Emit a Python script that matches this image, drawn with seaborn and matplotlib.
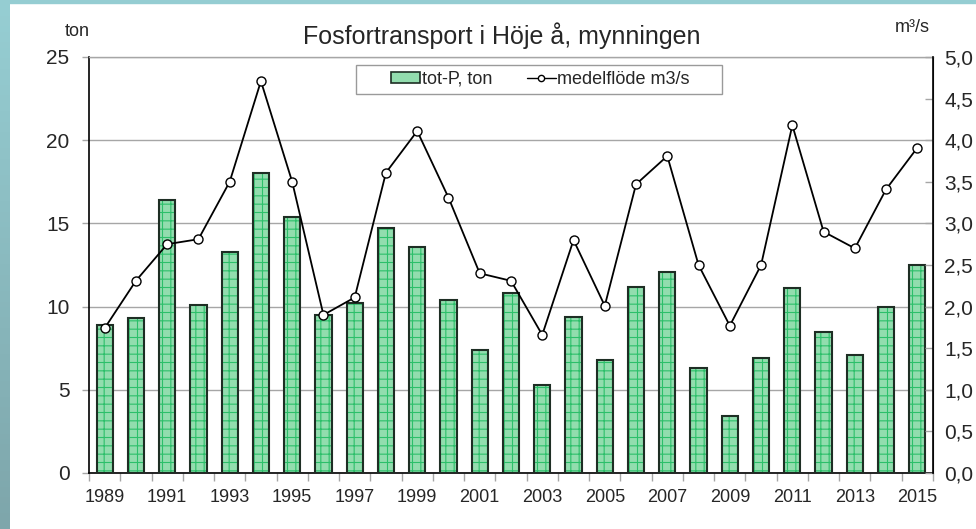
"""
Fosfortransport i Höje å, mynningen - bars (tot-P, ton) with the
mean flow (m3/s) drawn as a line on a second y axis.
"""

import numpy as np
import pandas as pd
import matplotlib
matplotlib.use('Agg')
import matplotlib.pyplot as plt
from matplotlib.patches import Rectangle, Patch
from matplotlib.lines import Line2D
import seaborn as sns

years = list(range(1989, 2016))
tot_p = [8.9, 9.3, 16.4, 10.1, 13.3, 18.0, 15.4, 9.5, 10.2, 14.7,
         13.6, 10.4, 7.4, 10.8, 5.3, 9.4, 6.8, 11.2, 12.1, 6.3,
         3.4, 6.9, 11.1, 8.5, 7.1, 10.0, 12.5]
flow = [1.74, 2.31, 2.75, 2.81, 3.50, 4.71, 3.50, 1.90, 2.11, 3.61,
        4.11, 3.31, 2.40, 2.31, 1.66, 2.80, 2.01, 3.47, 3.81, 2.50,
        1.77, 2.50, 4.18, 2.90, 2.70, 3.41, 3.91]
left_ticks = [0, 5, 10, 15, 20, 25]
right_ticks = [0.0, 0.5, 1.0, 1.5, 2.0, 2.5, 3.0, 3.5, 4.0, 4.5, 5.0]
right_labels = ['0,0', '0,5', '1,0', '1,5', '2,0', '2,5',
                '3,0', '3,5', '4,0', '4,5', '5,0']

BAR_FACE = '#92DDAE'
HATCH_GREEN = '#2CBF6A'
BAR_EDGE = '#1E2E24'
GRID = '#A6A6A6'

sns.set_style('white')
plt.rcParams['font.family'] = ['Liberation Sans', 'DejaVu Sans']
plt.rcParams['hatch.linewidth'] = 0.8

df = pd.DataFrame({'year': [str(y) for y in years], 'tot_p': tot_p,
                   'flow': flow})

fig = plt.figure(figsize=(9.76, 5.29), dpi=100, facecolor='white')

# teal frame on the left and top edge
strip = fig.add_axes([0, 0, 10 / 976, 1])
grad = np.linspace(0, 1, 100).reshape(-1, 1)
cmap = matplotlib.colors.LinearSegmentedColormap.from_list(
    'teal', ['#96CED3', '#7EA6AB'])
strip.imshow(grad, aspect='auto', cmap=cmap)
strip.axis('off')
fig.patches.append(Rectangle((0, 1 - 3 / 529), 1, 3 / 529,
                             transform=fig.transFigure,
                             color='#95CDD2', zorder=0))

ax = fig.add_axes([89 / 976, 56 / 529, 844 / 976, 416 / 529])
sns.barplot(data=df, x='year', y='tot_p', ax=ax, color=BAR_FACE,
            width=0.52, saturation=1, zorder=2)
for p in list(ax.patches):
    p.set_hatch('++')
    p.set_edgecolor(HATCH_GREEN)
    p.set_linewidth(0)
    ax.add_patch(Rectangle(p.get_xy(), p.get_width(), p.get_height(),
                           fill=False, edgecolor=BAR_EDGE, linewidth=1.5,
                           zorder=3))

ax.set_xlim(-0.5, len(years) - 0.5)
ax.set_ylim(0, 25)
ax.set_yticks(left_ticks)
ax.set_yticklabels([str(t) for t in left_ticks], fontsize=15)
ax.yaxis.grid(True, color=GRID, linewidth=1)
ax.set_axisbelow(True)
ax.tick_params(axis='y', direction='out', length=5, width=1,
               color=GRID, pad=9, left=True)
ax.set_xticks(range(0, len(years), 2))
ax.set_xticklabels([str(y) for y in years[::2]], fontsize=13)
ax.set_xticks(np.arange(-0.5, len(years), 1), minor=True)
ax.tick_params(axis='x', which='major', length=0, pad=11.5)
ax.tick_params(axis='x', which='minor', direction='out', length=6,
               width=1, color=GRID, bottom=True)
ax.set_xlabel('')
ax.set_ylabel('')
for side in ['left', 'bottom']:
    ax.spines[side].set_color('black')
    ax.spines[side].set_linewidth(1.2)
ax.spines['top'].set_color(GRID)
ax.spines['top'].set_linewidth(1)

ax2 = ax.twinx()
sns.lineplot(x=np.arange(len(years)), y=flow, ax=ax2, color='black',
             linewidth=1.3, marker='o', markersize=6.5,
             markerfacecolor='white', markeredgecolor='black',
             markeredgewidth=1, zorder=4)
ax2.set_ylim(0, 5)
ax2.set_yticks(right_ticks)
ax2.set_yticklabels(right_labels, fontsize=15)
ax2.tick_params(axis='y', direction='in', length=6, width=1,
                color=GRID, pad=8, right=True)
ax2.spines['right'].set_color('black')
ax2.spines['right'].set_linewidth(1.2)
ax2.spines['top'].set_visible(False)
ax2.spines['left'].set_visible(False)
ax2.spines['bottom'].set_visible(False)
ax2.set_ylabel('')

# legend box
ax2.add_patch(Rectangle((0.316, 0.911), 0.434, 0.07,
                        transform=ax2.transAxes, facecolor='white',
                        edgecolor='#9A9A9A', linewidth=1, zorder=5))
handles = [Patch(facecolor=BAR_FACE, edgecolor=BAR_EDGE, linewidth=1.2),
           Line2D([0], [0], color='black', linewidth=1, marker='o',
                  markersize=4.5, markerfacecolor='white',
                  markeredgecolor='black')]
leg = ax2.legend(handles, ['tot-P, ton', 'medelflöde m3/s'], ncol=2,
                 loc='center', bbox_to_anchor=(0.535, 0.946),
                 frameon=False, fontsize=13, handlelength=1.6,
                 handleheight=0.6, handletextpad=0.1, columnspacing=1.9)
leg.set_zorder(6)

fig.text(502 / 976, 1 - 36 / 529, 'Fosfortransport i Höje å, mynningen',
         ha='center', va='center', fontsize=18)
fig.text(77 / 976, 1 - 32 / 529, 'ton', ha='center', va='center',
         fontsize=13)
fig.text(912 / 976, 1 - 27 / 529, 'm³/s', ha='center', va='center',
         fontsize=13)

fig.savefig('out.png', dpi=100)
